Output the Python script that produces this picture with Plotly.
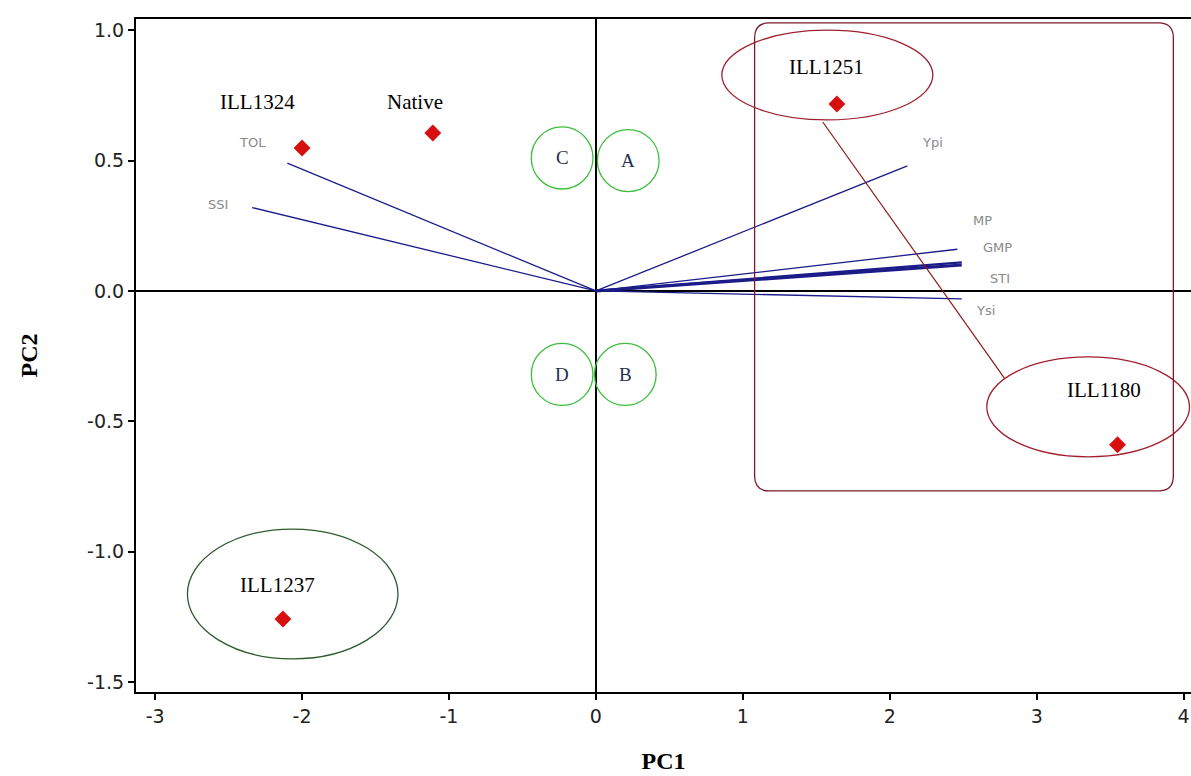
import plotly.graph_objects as go

# Genotype scores
genotypes = ["ILL1324", "Native", "ILL1251", "ILL1180", "ILL1237"]
geno_pc1 = [-2.00, -1.11, 1.64, 3.55, -2.13]
geno_pc2 = [0.548, 0.606, 0.717, -0.59, -1.258]
geno_label_pc1 = [-2.30, -1.23, 1.57, 3.46, -2.17]
geno_label_pc2 = [0.725, 0.725, 0.86, -0.38, -1.127]

# Index vectors
indices = ["TOL", "SSI", "Ypi", "MP", "GMP", "STI", "Ysi"]
vec_pc1 = [-2.10, -2.34, 2.12, 2.46, 2.49, 2.49, 2.49]
vec_pc2 = [0.49, 0.32, 0.48, 0.16, 0.11, 0.10, -0.03]
vec_width = [1.3, 1.3, 1.3, 1.3, 2.2, 3.0, 1.3]
idx_label_pc1 = [-2.34, -2.57, 2.29, 2.63, 2.73, 2.75, 2.65]
idx_label_pc2 = [0.57, 0.33, 0.57, 0.27, 0.165, 0.046, -0.073]

# Quadrant group markers
groups = ["C", "A", "D", "B"]
group_pc1 = [-0.23, 0.22, -0.23, 0.20]
group_pc2 = [0.51, 0.50, -0.32, -0.32]
group_rx = 0.21
group_ry = 0.119

x_ticks = [-3, -2, -1, 0, 1, 2, 3, 4]
y_ticks = [-1.5, -1.0, -0.5, 0.0, 0.5, 1.0]
x_range = [-3.13, 4.05]
y_range = [-1.538, 1.043]

fig = go.Figure()

# vectors
for name, x, y, w in zip(indices, vec_pc1, vec_pc2, vec_width):
    fig.add_trace(go.Scatter(x=[0, x], y=[0, y], mode="lines",
                             line=dict(color="#1b1b8a", width=w),
                             showlegend=False, hoverinfo="skip"))

# connection line between ILL1251 and ILL1180 ellipses
fig.add_trace(go.Scatter(x=[1.544, 2.78], y=[0.648, -0.334], mode="lines",
                         line=dict(color="#8b1a1a", width=1.2),
                         showlegend=False, hoverinfo="skip"))

# genotype points
fig.add_trace(go.Scatter(x=geno_pc1, y=geno_pc2, mode="markers",
                         marker=dict(symbol="diamond", size=13, color="#d80f0f"),
                         showlegend=False))

# genotype labels
for name, x, y in zip(genotypes, geno_label_pc1, geno_label_pc2):
    fig.add_annotation(x=x, y=y, text=name, showarrow=False,
                       font=dict(family="Liberation Serif", size=21, color="black"))

# index labels
for name, x, y in zip(indices, idx_label_pc1, idx_label_pc2):
    fig.add_annotation(x=x, y=y, text=name, showarrow=False,
                       font=dict(family="DejaVu Sans", size=13, color="#8a8a8a"))

# group circles and letters
for name, x, y in zip(groups, group_pc1, group_pc2):
    fig.add_shape(type="circle", xref="x", yref="y",
                  x0=x - group_rx, x1=x + group_rx, y0=y - group_ry, y1=y + group_ry,
                  line=dict(color="#3fbf3f", width=1.3))
    fig.add_annotation(x=x, y=y, text=name, showarrow=False,
                       font=dict(family="Liberation Serif", size=19, color="#1f3050"))

# ellipses
fig.add_shape(type="circle", xref="x", yref="y", x0=-2.78, x1=-1.347, y0=-1.411, y1=-0.913,
              line=dict(color="#2f5a2f", width=1.3))
fig.add_shape(type="circle", xref="x", yref="y", x0=0.857, x1=2.293, y0=0.656, y1=1.0,
              line=dict(color="#a02030", width=1.3))
fig.add_shape(type="circle", xref="x", yref="y", x0=2.66, x1=4.04, y0=-0.636, y1=-0.253,
              line=dict(color="#a02030", width=1.3))

# rounded rectangle
rx0, rx1, ry0, ry1 = 1.08, 3.93, -0.767, 1.028
cx, cy = 0.10, 0.058
path = (f"M {rx0+cx},{ry1} L {rx1-cx},{ry1} Q {rx1},{ry1} {rx1},{ry1-cy} "
        f"L {rx1},{ry0+cy} Q {rx1},{ry0} {rx1-cx},{ry0} "
        f"L {rx0+cx},{ry0} Q {rx0},{ry0} {rx0},{ry0+cy} "
        f"L {rx0},{ry1-cy} Q {rx0},{ry1} {rx0+cx},{ry1} Z")
fig.add_shape(type="path", xref="x", yref="y", path=path,
              line=dict(color="#7a1a2a", width=1.3))

fig.update_layout(
    width=1191, height=776,
    margin=dict(l=136, r=0, t=19, b=84, autoexpand=False),
    plot_bgcolor="white", paper_bgcolor="white",
    xaxis=dict(range=x_range, tickvals=x_ticks, ticktext=[str(v) for v in x_ticks],
               automargin=False,
               showgrid=False, zeroline=True, zerolinecolor="black", zerolinewidth=1.5,
               showline=True, linecolor="black", linewidth=2, mirror=True,
               ticks="outside", ticklen=6, tickcolor="black", tickwidth=2,
               tickfont=dict(family="DejaVu Sans", size=19, color="#222"),
               title=dict(text="<b>PC1</b>", font=dict(family="Liberation Serif", size=24, color="black"),
                          standoff=26)),
    yaxis=dict(range=y_range, tickvals=y_ticks, ticktext=[f"{v:.1f}" for v in y_ticks],
               automargin=False,
               showgrid=False, zeroline=True, zerolinecolor="black", zerolinewidth=1.5,
               showline=True, linecolor="black", linewidth=2, mirror=False,
               ticks="outside", ticklen=6, tickcolor="black", tickwidth=2,
               tickfont=dict(family="DejaVu Sans", size=19, color="#222"),
               title=dict(text="<b>PC2</b>", font=dict(family="Liberation Serif", size=24, color="black"),
                          standoff=43)),
)

fig.write_html("out.html", config={"displayModeBar": False},
               post_script="document.body.style.margin='0';")
